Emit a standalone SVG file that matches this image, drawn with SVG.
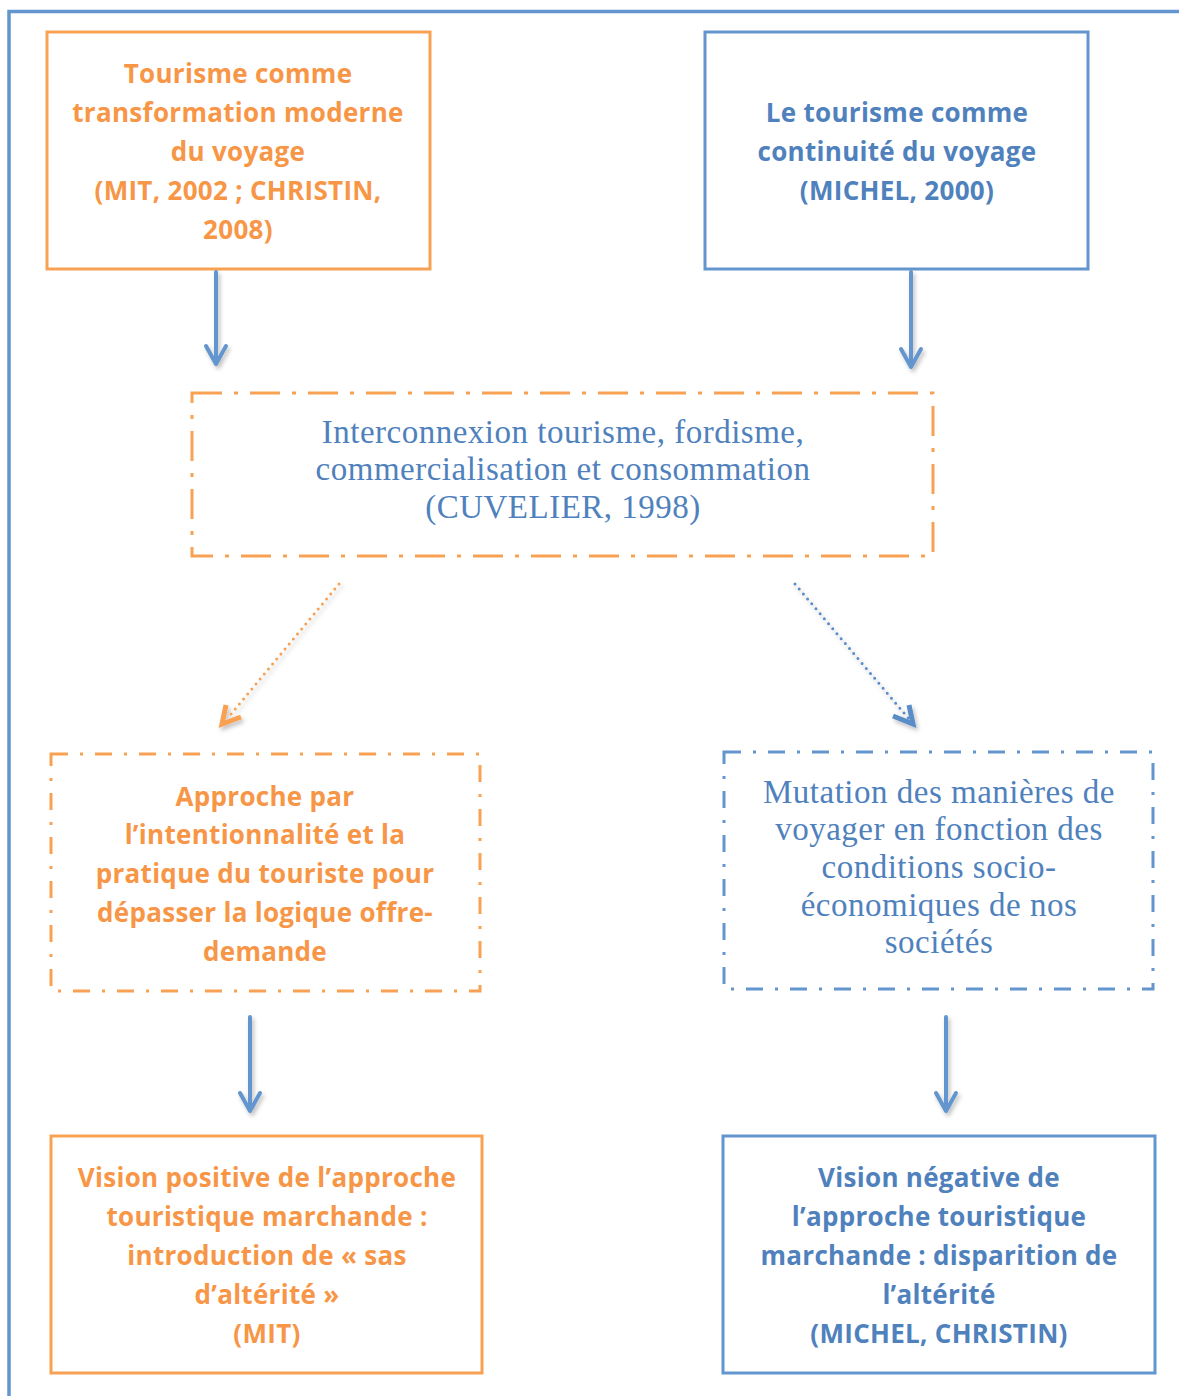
<svg xmlns="http://www.w3.org/2000/svg" width="1179" height="1396" viewBox="0 0 1179 1396">
<style>
.bg{fill:#ffffff}
.frame{fill:none;stroke:#6395CE;stroke-width:3.5}
.bo{fill:none;stroke:#F9A152;stroke-width:3}
.bb{fill:none;stroke:#6395CE;stroke-width:3}
.dd1{stroke-dasharray:30 12 4 12}
.dd2{stroke-dasharray:17 12 3 12}
.tbo{font-family:"Open Sans",Lato,"Liberation Sans",sans-serif;font-weight:bold;font-size:26px;letter-spacing:0.3px;fill:#F79646;text-anchor:middle}
.tbb{font-family:"Open Sans",Lato,"Liberation Sans",sans-serif;font-weight:bold;font-size:26px;letter-spacing:0.3px;fill:#4F81BD;text-anchor:middle}
.ts{font-family:"Liberation Serif","DejaVu Serif",serif;font-size:33px;letter-spacing:0.5px;fill:#4F81BD;text-anchor:middle}
.ar{fill:none;stroke:#6395CE;stroke-width:4;stroke-linecap:round;stroke-linejoin:round}
.dot{fill:none;stroke-width:3;stroke-linecap:round;stroke-dasharray:0 6.5}
.head{fill:none;stroke-width:5;stroke-linecap:butt;stroke-linejoin:miter}
</style>
<defs>
<filter id="sh" x="-30%" y="-30%" width="160%" height="160%">
<feDropShadow dx="2" dy="3" stdDeviation="2" flood-color="#000" flood-opacity="0.25"/>
</filter>
</defs>
<rect class="bg" x="0" y="0" width="1179" height="1396"/>
<path class="frame" d="M9,1396 V11.5 H1179"/>

<g id="node-transformation">
<rect class="bo" x="47" y="32" width="383" height="237"/>
<text class="tbo" x="238" y="83">Tourisme comme</text>
<text class="tbo" x="238" y="122">transformation moderne</text>
<text class="tbo" x="238" y="161">du voyage</text>
<text class="tbo" x="238" y="200">(MIT, 2002 ; CHRISTIN,</text>
<text class="tbo" x="238" y="239">2008)</text>
</g>

<g id="node-continuite">
<rect class="bb" x="705" y="32" width="383" height="237"/>
<text class="tbb" x="897" y="122">Le tourisme comme</text>
<text class="tbb" x="897" y="161">continuité du voyage</text>
<text class="tbb" x="897" y="200">(MICHEL, 2000)</text>
</g>

<g id="node-interconnexion">
<rect class="bo dd1" x="192" y="393" width="741" height="163"/>
<text class="ts" x="563" y="443">Interconnexion tourisme, fordisme,</text>
<text class="ts" x="563" y="480">commercialisation et consommation</text>
<text class="ts" x="563" y="518">(CUVELIER, 1998)</text>
</g>

<g id="node-approche">
<rect class="bo dd2" x="51" y="754" width="429" height="237"/>
<text class="tbo" x="265" y="806">Approche par</text>
<text class="tbo" x="265" y="844">l’intentionnalité et la</text>
<text class="tbo" x="265" y="883">pratique du touriste pour</text>
<text class="tbo" x="265" y="922">dépasser la logique offre-</text>
<text class="tbo" x="265" y="961">demande</text>
</g>

<g id="node-mutation">
<rect class="bb dd2" x="724" y="752" width="429" height="237"/>
<text class="ts" x="939" y="803">Mutation des manières de</text>
<text class="ts" x="939" y="840">voyager en fonction des</text>
<text class="ts" x="939" y="878">conditions socio-</text>
<text class="ts" x="939" y="916">économiques de nos</text>
<text class="ts" x="939" y="953">sociétés</text>
</g>

<g id="node-positive">
<rect class="bo" x="51" y="1136" width="431" height="237"/>
<text class="tbo" x="267" y="1187">Vision positive de l’approche</text>
<text class="tbo" x="267" y="1226">touristique marchande :</text>
<text class="tbo" x="267" y="1265">introduction de « sas</text>
<text class="tbo" x="267" y="1304">d’altérité »</text>
<text class="tbo" x="267" y="1343">(MIT)</text>
</g>

<g id="node-negative">
<rect class="bb" x="723" y="1136" width="432" height="237"/>
<text class="tbb" x="939" y="1187">Vision négative de</text>
<text class="tbb" x="939" y="1226">l’approche touristique</text>
<text class="tbb" x="939" y="1265">marchande : disparition de</text>
<text class="tbb" x="939" y="1304">l’altérité</text>
<text class="tbb" x="939" y="1343">(MICHEL, CHRISTIN)</text>
</g>

<g id="connectors" filter="url(#sh)">
<path class="ar" d="M216,272 V363 M206,346 L216,364 L226,346"/>
<path class="ar" d="M911,272 V366 M901,349 L911,367 L921,349"/>
<path class="ar" d="M250,1017 V1110 M240,1093 L250,1111 L260,1093"/>
<path class="ar" d="M946,1017 V1110 M936,1093 L946,1111 L956,1093"/>
<path class="dot" stroke="#F9A152" d="M339,584 L227,719"/>
<path class="head" stroke="#F9A152" d="M226,705 L222,724 L241,717"/>
<path class="dot" stroke="#5A8CC8" d="M795,584 L909,719"/>
<path class="head" stroke="#5A8CC8" d="M909,705 L913,724 L893,716"/>
</g>
</svg>
